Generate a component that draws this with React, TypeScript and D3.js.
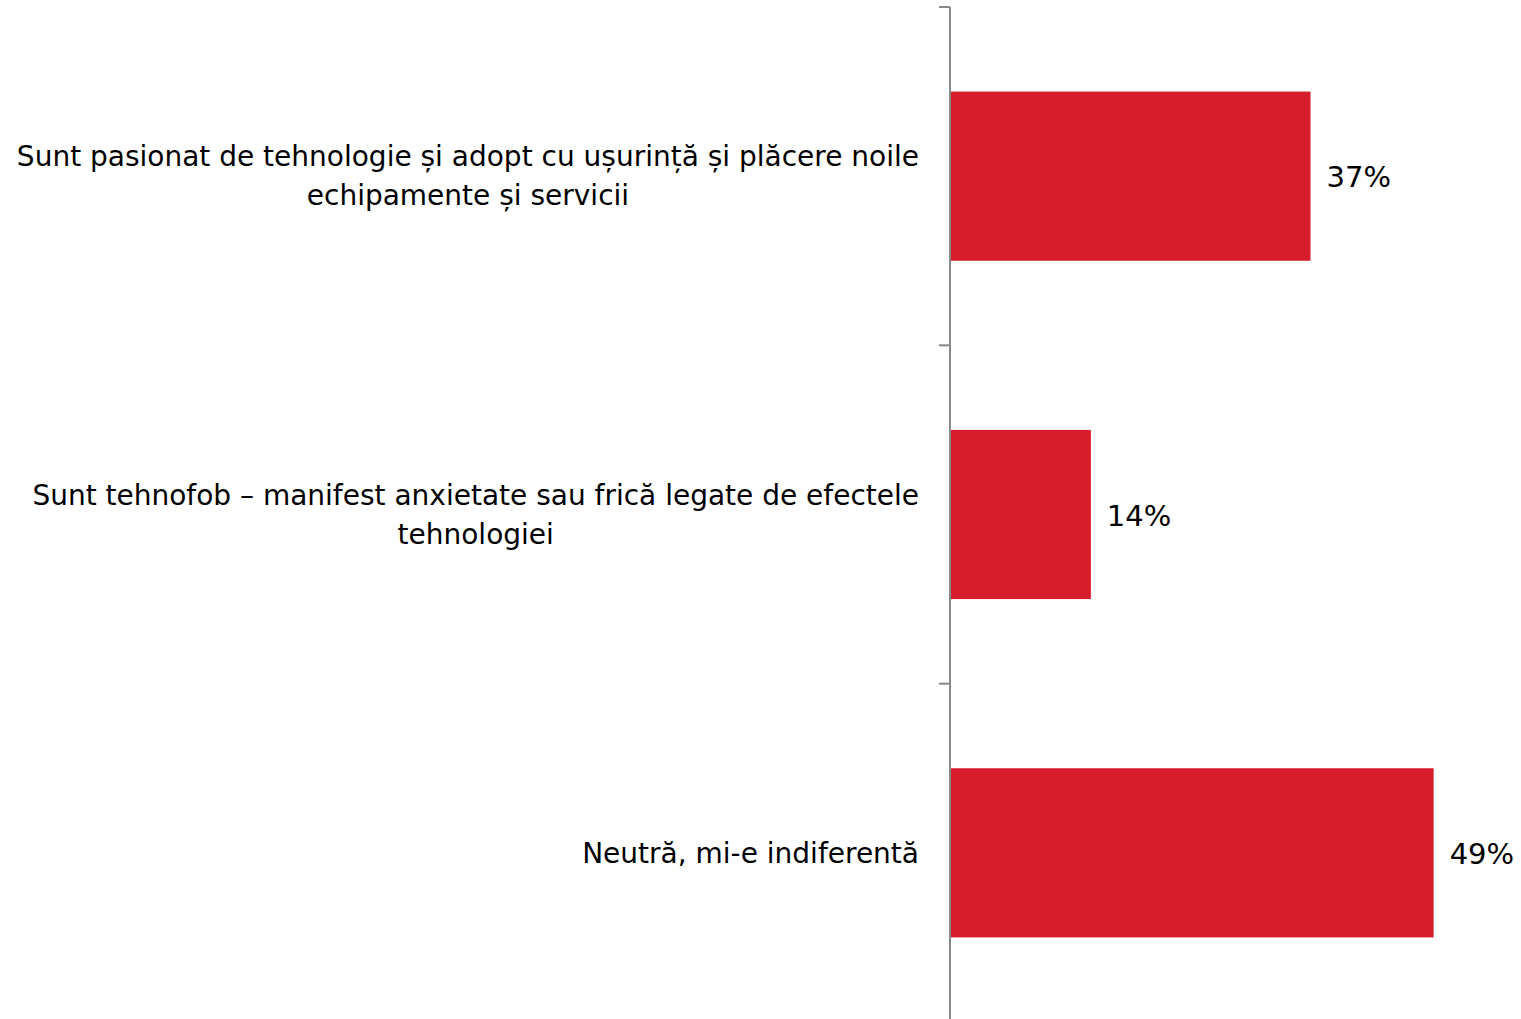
import React, { useEffect, useRef } from "react";
import * as d3 from "d3";

const categories: string[][] = [
  ["Sunt pasionat de tehnologie și adopt cu ușurință și plăcere noile", "echipamente și servicii"],
  ["Sunt tehnofob – manifest anxietate sau frică legate de efectele", "tehnologiei"],
  ["Neutră, mi-e indiferentă"],
];
const values: number[] = [36.6, 14.3, 49.1];
const valueLabels: string[] = ["37%", "14%", "49%"];

const W = 1521;
const H = 1019;
const FONT = "'DejaVu Sans', Verdana, sans-serif";
const FS = 28;

export default function App() {
  const ref = useRef<SVGSVGElement>(null);
  useEffect(() => {
    const svg = d3.select(ref.current);
    svg.selectAll("*").remove();
    const x0 = 950;
    const x = d3.scaleLinear().domain([0, 100]).range([x0, x0 + 985]);
    const ids = categories.map((_, i) => String(i));
    const y = d3.scaleBand<string>().domain(ids).range([7, 1022]).paddingInner(0.5).paddingOuter(0.25);
    const step = y.step();

    // bars
    svg.selectAll("rect.bar").data(values).enter().append("rect")
      .attr("x", x(0) + 1)
      .attr("y", (_, i) => y(ids[i])!)
      .attr("width", d => x(d) - x(0) - 1)
      .attr("height", y.bandwidth())
      .attr("fill", "#D71D2B");

    // axis
    svg.append("line").attr("x1", x0).attr("x2", x0).attr("y1", 7).attr("y2", 1030)
      .attr("stroke", "#888").attr("stroke-width", 2);
    for (let i = 0; i <= ids.length; i++) {
      const ty = 7 + i * step;
      svg.append("line").attr("x1", x0 - 11).attr("x2", x0).attr("y1", ty).attr("y2", ty)
        .attr("stroke", "#888").attr("stroke-width", 2);
    }

    // value labels
    svg.selectAll("text.val").data(values).enter().append("text")
      .attr("x", d => x(d) + 16)
      .attr("y", (_, i) => y(ids[i])! + y.bandwidth() / 2 + 1)
      .attr("dy", "0.35em")
      .attr("font-family", FONT).attr("font-size", 29).attr("fill", "#000")
      .text((_, i) => valueLabels[i]);

    // category labels
    const right = 919;
    const lh = 39;
    categories.forEach((lines, i) => {
      const cy = y(ids[i])! + y.bandwidth() / 2;
      const g = svg.append("g");
      const texts = lines.map((l, j) => g.append("text")
        .attr("y", cy + (j - (lines.length - 1) / 2) * lh)
        .attr("dy", "0.35em")
        .attr("font-family", FONT).attr("font-size", FS).attr("fill", "#000")
        .attr("text-anchor", "middle")
        .text(l));
      const maxW = d3.max(texts, t => (t.node() as SVGTextElement).getComputedTextLength()) || 0;
      texts.forEach(t => t.attr("x", right - maxW / 2));
    });
  }, []);
  return (
    <svg ref={ref} width={W} height={H} style={{ position: "absolute", left: 0, top: 0, background: "#fff" }} />
  );
}
